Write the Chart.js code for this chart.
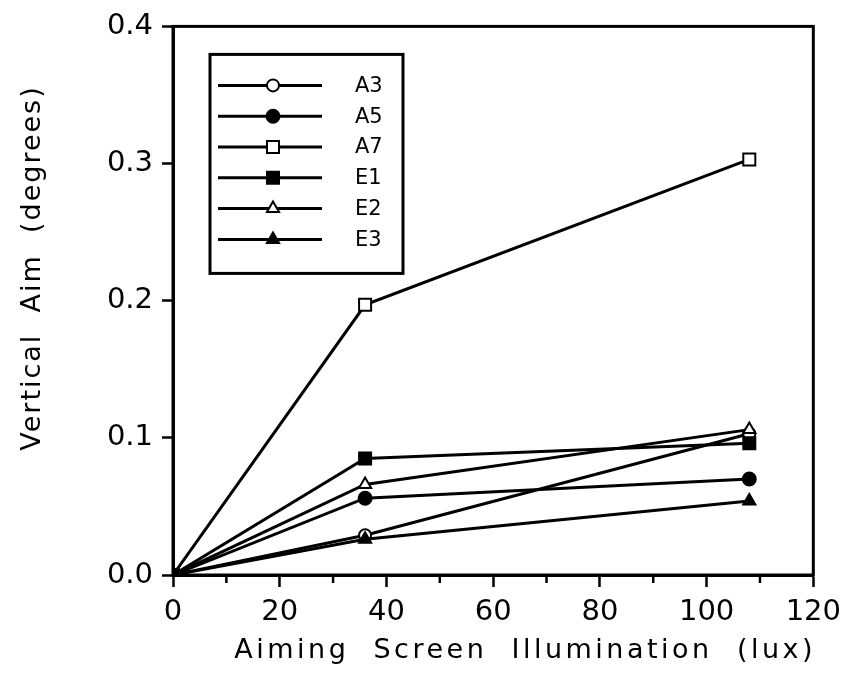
<!DOCTYPE html>
<html>
<head>
<meta charset="utf-8">
<script src="https://cdn.jsdelivr.net/npm/chart.js@4/dist/chart.umd.min.js"></script>
<style>
html,body{margin:0;padding:0;background:#fff;}
#wrap{width:849px;height:688px;}
</style>
</head>
<body>
<div id="wrap"><canvas id="c" width="849" height="688"></canvas></div>
<script>
// ---- data ----
const illumination = [0, 36, 108];
const seriesNames = ['A3', 'A5', 'A7', 'E1', 'E2', 'E3'];
const A3 = [0, 0.029, 0.103];
const A5 = [0, 0.056, 0.070];
const A7 = [0, 0.197, 0.303];
const E1 = [0, 0.085, 0.096];
const E2 = [0, 0.066, 0.106];
const E3 = [0, 0.026, 0.054];
const xTicks = [0, 20, 40, 60, 80, 100, 120];
const yTicks = [0.0, 0.1, 0.2, 0.3, 0.4];
const xTitle = 'Aiming  Screen  Illumination  (lux)';
const yTitle = 'Vertical  Aim  (degrees)';

// ---- styles ----
const FONT = '"DejaVu Sans", sans-serif';
const styles = {
  A3: {shape: 'circle', fill: '#fff', r: 6},
  A5: {shape: 'circle', fill: '#000', r: 6.5},
  A7: {shape: 'rect', fill: '#fff', r: 8.5},
  E1: {shape: 'rect', fill: '#000', r: 8.5},
  E2: {shape: 'triangle', fill: '#fff', r: 7},
  E3: {shape: 'triangle', fill: '#000', r: 7}
};
const values = {A3, A5, A7, E1, E2, E3};

const datasets = seriesNames.map((name, i) => ({
  label: name,
  data: illumination.map((x, j) => ({x: x, y: values[name][j]})),
  borderColor: '#000',
  borderWidth: 3,
  pointStyle: styles[name].shape,
  pointRadius: styles[name].r,
  pointBackgroundColor: styles[name].fill,
  pointBorderColor: '#000',
  pointBorderWidth: 2,
  tension: 0,
  order: seriesNames.length - i,
  fill: false
}));

const framePlugin = {
  id: 'frame',
  afterDraw(chart) {
    const ctx = chart.ctx;
    const a = chart.chartArea;
    const xs = chart.scales.x;
    ctx.save();
    // frame
    ctx.strokeStyle = '#000';
    ctx.lineWidth = 3;
    ctx.strokeRect(a.left, a.top, a.right - a.left, a.bottom - a.top);
    // minor x ticks
    ctx.lineWidth = 2.5;
    for (let v = 10; v < 120; v += 20) {
      const px = xs.getPixelForValue(v);
      ctx.beginPath();
      ctx.moveTo(px, a.bottom);
      ctx.lineTo(px, a.bottom + 8);
      ctx.stroke();
    }
    // axis titles with letter spacing
    ctx.fillStyle = '#000';
    ctx.font = '27px ' + FONT;
    ctx.textAlign = 'center';
    ctx.textBaseline = 'middle';
    ctx.letterSpacing = '3.5px';
    ctx.fillText(xTitle, (a.left + a.right) / 2 + 32, 651);
    ctx.letterSpacing = '2px';
    ctx.save();
    ctx.translate(33, 268);
    ctx.rotate(-Math.PI / 2);
    ctx.fillText(yTitle, 0, 0);
    ctx.restore();
    ctx.letterSpacing = '0px';

    // legend box
    const lx = a.left + 37, ly = a.top + 28, lw = 193, lh = 219;
    ctx.lineWidth = 3;
    ctx.strokeRect(lx, ly, lw, lh);
    ctx.font = '21px ' + FONT;
    ctx.textAlign = 'left';
    chart.data.datasets.forEach((ds, i) => {
      const y = ly + 31 + i * 30.8;
      ctx.lineWidth = 3;
      ctx.strokeStyle = '#000';
      ctx.beginPath();
      ctx.moveTo(lx + 8, y);
      ctx.lineTo(lx + 112, y);
      ctx.stroke();
      ctx.fillStyle = ds.pointBackgroundColor;
      ctx.strokeStyle = '#000';
      ctx.lineWidth = 2;
      Chart.helpers.drawPoint(ctx, {pointStyle: ds.pointStyle, radius: ds.pointRadius, rotation: 0, borderWidth: 2}, lx + 63, y);
      ctx.fillStyle = '#000';
      ctx.fillText(ds.label, lx + 145, y + 1);
    });
    ctx.restore();
  }
};

new Chart(document.getElementById('c'), {
  type: 'line',
  data: {datasets},
  options: {
    responsive: false,
    animation: false,
    events: [],
    layout: {padding: {left: 0, right: 33, top: 20, bottom: 0}},
    plugins: {legend: {display: false}, tooltip: {enabled: false}},
    scales: {
      x: {
        type: 'linear',
        min: 0, max: 120,
        afterBuildTicks(s) { s.ticks = xTicks.map(v => ({value: v})); },
        afterFit(s) { s.height = 113; },
        grid: {display: true, drawOnChartArea: false, tickLength: 12, tickWidth: 2.5, tickColor: '#000'},
        border: {display: true, color: '#000', width: 3},
        ticks: {color: '#000', font: {family: FONT, size: 29}, padding: 8, maxRotation: 0,
          callback: v => String(v)}
      },
      y: {
        type: 'linear',
        min: 0, max: 0.4,
        afterBuildTicks(s) { s.ticks = yTicks.map(v => ({value: v})); },
        afterFit(s) { s.width = 173; },
        grid: {display: true, drawOnChartArea: false, tickLength: 11, tickWidth: 2.5, tickColor: '#000'},
        border: {display: true, color: '#000', width: 3},
        ticks: {color: '#000', font: {family: FONT, size: 29}, padding: 9,
          callback: v => Number(v).toFixed(1)}
      }
    }
  },
  plugins: [framePlugin]
});
</script>
</body>
</html>
